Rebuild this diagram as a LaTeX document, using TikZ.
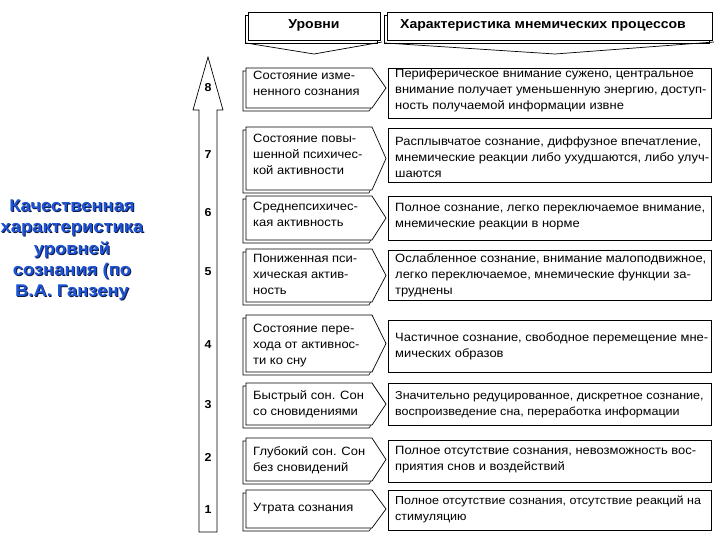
\documentclass[tikz,border=0pt]{standalone}
\usepackage{fontspec}
\setmainfont[FakeStretch=1.08]{Liberation Sans}
\usetikzlibrary{positioning}
\definecolor{titleblue}{RGB}{30,85,215}
\definecolor{titleshade}{RGB}{15,25,70}

\begin{document}
\begin{tikzpicture}[x=1pt,y=-1pt,line join=miter,
                    every text node part/.style={align=left}]
  \tikzstyle{box}=[draw=black,fill=white,line width=0.7pt]
  \tikzstyle{shade}=[draw=black,fill=white,line width=0.6pt]
  \tikzstyle{txt}=[anchor=north west,inner sep=0pt,font=\fontsize{12}{16}\selectfont]
  \tikzstyle{tight}=[font=\fontsize{11.6}{16}\selectfont]
  \tikzstyle{head}=[inner sep=0pt,font=\bfseries\fontsize{13}{15}\selectfont]
  \tikzstyle{num}=[inner sep=0pt,font=\bfseries\fontsize{11.5}{13}\selectfont]
  \tikzstyle{title}=[inner sep=0pt,every text node part/.style={align=center},
                     font=\bfseries\fontsize{17}{21.2}\selectfont]
  \useasboundingbox (0,0) rectangle (720,540);

  \node[title,text=titleshade] (Tsh) at (73,251) {Качественная\\характеристика\\уровней\\сознания (по\\В.А. Ганзену};
  \node[title,text=titleblue]  (T)   at (72,250) {Качественная\\характеристика\\уровней\\сознания (по\\В.А. Ганзену};

  \draw[box] (199,532) -- (199,110) -- (193,110) -- (208,57) -- (223,110)
             -- (217,110) -- (217,532) -- cycle;
  \node[num] (N8) at (208,88)  {8};
  \node[num] (N7) at (208,155) {7};
  \node[num] (N6) at (208,213) {6};
  \node[num] (N5) at (208,272) {5};
  \node[num] (N4) at (208,345) {4};
  \node[num] (N3) at (208,405) {3};
  \node[num] (N2) at (208,457) {2};
  \node[num] (N1) at (208,510) {1};

  \draw[shade] (245,15) rectangle (377,43);
  \draw[box]   (248,12) rectangle (380,40);
  \draw[box,fill=none] (246,43) -- (314,54) -- (382,42);
  \node[head] (Hl) at (314,25) {Уровни};
  \draw[shade] (384,15) rectangle (709,43);
  \draw[box]   (387,12) rectangle (712,40);
  \draw[box,fill=none] (385,43) -- (555,54) -- (714,42);
  \node[head] (Hr) at (543,25) {Характеристика мнемических процессов};

  \draw[shade] (243,71) -- (369,71) -- (383,91) -- (369,111) -- (243,111) -- cycle;
  \draw[box] (246,68) -- (372,68) -- (386,88) -- (372,108) -- (246,108) -- cycle;
  \node[txt] (L8) at (253,71) {Состояние изме-\\ненного сознания};
  \draw[box] (388,68) rectangle (711,118);
  \node[txt] (R8) at (395,69) {Периферическое внимание сужено, центральное\\внимание получает уменьшенную энергию, доступ-\\ность получаемой информации извне};

  \draw[shade] (243,130) -- (369,130) -- (383,161.5) -- (369,193) -- (243,193) -- cycle;
  \draw[box] (246,127) -- (372,127) -- (386,158.5) -- (372,190) -- (246,190) -- cycle;
  \node[txt] (L7) at (253,134) {Состояние повы-\\шенной психичес-\\кой активности};
  \draw[box] (388,128) rectangle (711,182);
  \node[txt] (R7) at (395,137) {Расплывчатое сознание, диффузное впечатление,\\мнемические реакции либо ухудшаются, либо улуч-\\шаются};

  \draw[shade] (243,199) -- (369,199) -- (383,221) -- (369,243) -- (243,243) -- cycle;
  \draw[box] (246,196) -- (372,196) -- (386,218) -- (372,240) -- (246,240) -- cycle;
  \node[txt] (L6) at (253,202) {Среднепсихичес-\\кая активность};
  \draw[box] (388,196) rectangle (711,240);
  \node[txt] (R6) at (395,203) {Полное сознание, легко переключаемое внимание,\\мнемические реакции в норме};

  \draw[shade] (243,252) -- (369,252) -- (383,278.5) -- (369,305) -- (243,305) -- cycle;
  \draw[box] (246,249) -- (372,249) -- (386,275.5) -- (372,302) -- (246,302) -- cycle;
  \node[txt] (L5) at (253,254) {Пониженная пси-\\хическая актив-\\ность};
  \draw[box] (388,250) rectangle (711,300);
  \node[txt] (R5) at (395,253) {Ослабленное сознание, внимание малоподвижное,\\легко переключаемое, мнемические функции за-\\труднены};

  \draw[shade] (243,318) -- (369,318) -- (383,346.5) -- (369,375) -- (243,375) -- cycle;
  \draw[box] (246,315) -- (372,315) -- (386,343.5) -- (372,372) -- (246,372) -- cycle;
  \node[txt] (L4) at (253,324) {Состояние пере-\\хода от активнос-\\ти ко сну};
  \draw[box] (388,320) rectangle (711,372);
  \node[txt] (R4) at (395,332) {Частичное сознание, свободное перемещение мне-\\мических образов};

  \draw[shade] (243,386) -- (369,386) -- (383,407) -- (369,428) -- (243,428) -- cycle;
  \draw[box] (246,383) -- (372,383) -- (386,404) -- (372,425) -- (246,425) -- cycle;
  \node[txt] (L3) at (253,390) {Быстрый сон. Сон\\со сновидениями};
  \draw[box] (388,383) rectangle (711,425);
  \node[txt,tight] (R3) at (395,391) {Значительно редуцированное, дискретное сознание,\\воспроизведение сна, переработка информации};

  \draw[shade] (243,441) -- (369,441) -- (383,462.5) -- (369,484) -- (243,484) -- cycle;
  \draw[box] (246,438) -- (372,438) -- (386,459.5) -- (372,481) -- (246,481) -- cycle;
  \node[txt] (L2) at (253,446) {Глубокий сон. Сон\\без сновидений};
  \draw[box] (388,440) rectangle (711,482);
  \node[txt] (R2) at (395,446) {Полное отсутствие сознания, невозможность вос-\\приятия снов и воздействий};

  \draw[shade] (243,493) -- (369,493) -- (383,512) -- (369,531) -- (243,531) -- cycle;
  \draw[box] (246,490) -- (372,490) -- (386,509) -- (372,528) -- (246,528) -- cycle;
  \node[txt] (L1) at (253,503) {Утрата сознания};
  \draw[box] (388,490) rectangle (711,530);
  \node[txt,tight] (R1) at (395,496) {Полное отсутствие сознания, отсутствие реакций на\\стимуляцию};
\end{tikzpicture}
\end{document}
